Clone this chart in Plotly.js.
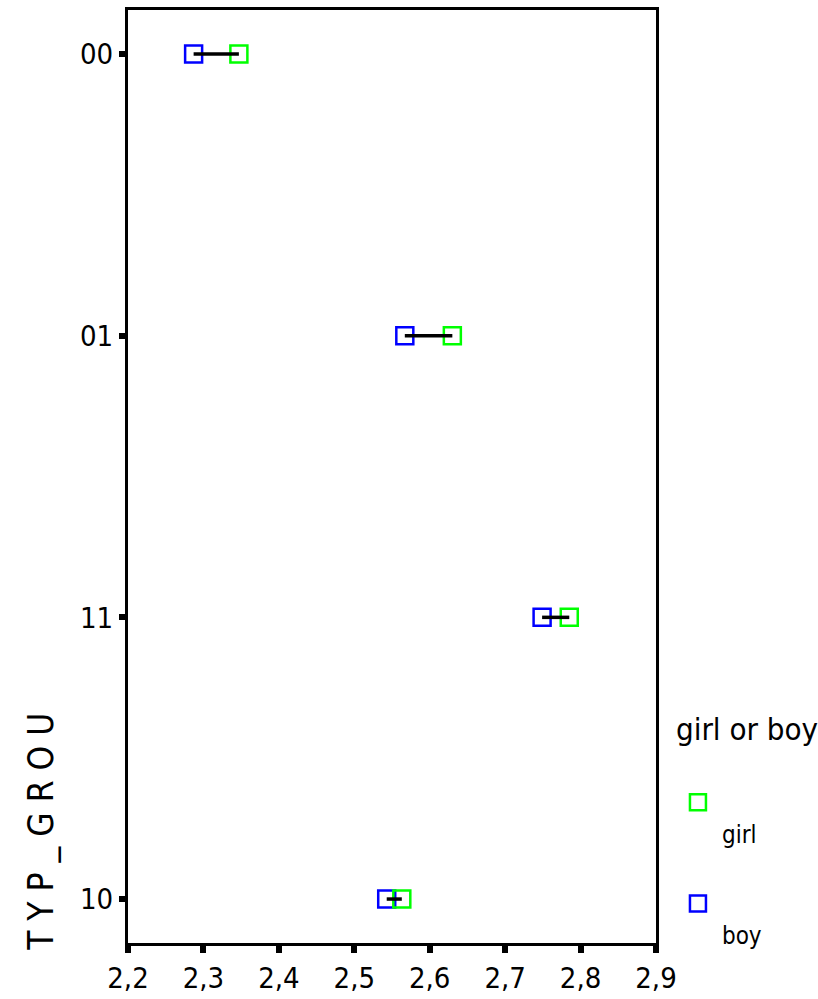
<!DOCTYPE html>
<html>
<head>
<meta charset="utf-8">
<script src="https://cdn.plot.ly/plotly-3.0.1.min.js"></script>
<style>html,body{margin:0;padding:0;background:#fff;}#chart{width:818px;height:999px;}</style>
</head>
<body>
<div id="chart"></div>
<script>
// Data
const categories = ['00', '01', '11', '10'];
const boyValues  = [2.287, 2.567, 2.749, 2.543];
const girlValues = [2.347, 2.630, 2.785, 2.563];
const xTickValues = [2.2, 2.3, 2.4, 2.5, 2.6, 2.7, 2.8, 2.9];
const seriesNames = ['girl', 'boy'];
const legendTitle = 'girl or boy';
const yAxisTitle = 'T Y P _ G R O U';

const FONT = '"Liberation Sans Narrow", "Arial Narrow", "DejaVu Sans Condensed", "Roboto Condensed", "Liberation Sans", Arial, sans-serif';

// connecting line segments built from the data
const lineX = [], lineY = [];
categories.forEach((c, i) => {
  lineX.push(boyValues[i], girlValues[i], null);
  lineY.push(c, c, null);
});

const traces = [
  {
    type: 'scatter', mode: 'markers', name: '<br>' + seriesNames[1],
    x: boyValues, y: categories,
    marker: {symbol: 'square-open', size: 17, color: '#0000ff', line: {width: 2.5, color: '#0000ff'}},
    legendgroup: 'b', legendrank: 2, hoverinfo: 'x+y'
  },
  {
    type: 'scatter', mode: 'markers', name: '<br>' + seriesNames[0],
    x: girlValues, y: categories,
    marker: {symbol: 'square-open', size: 17, color: '#00ff00', line: {width: 2.5, color: '#00ff00'}},
    legendgroup: 'g', legendrank: 1, hoverinfo: 'x+y'
  },
  {
    type: 'scatter', mode: 'lines', x: lineX, y: lineY,
    line: {color: '#000000', width: 3.5}, showlegend: false, hoverinfo: 'skip'
  }
];

const layout = {
  width: 818, height: 999,
  margin: {l: 128, r: 162, t: 10, b: 56, autoexpand: false},
  paper_bgcolor: '#ffffff', plot_bgcolor: '#ffffff',
  separators: ', ',
  font: {family: FONT, color: '#000000'},
  xaxis: {
    range: [2.2, 2.9], tickvals: xTickValues, tickformat: '.1f',
    showline: true, linewidth: 3, linecolor: '#000', mirror: true,
    ticks: 'outside', ticklen: 7, tickwidth: 6, tickcolor: '#000',
    showgrid: false, zeroline: false, automargin: false,
    tickfont: {family: FONT, size: 29, color: '#000'}
  },
  yaxis: {
    type: 'category', categoryorder: 'array',
    categoryarray: categories.slice().reverse(),
    range: [-0.156, 3.156],
    showline: true, linewidth: 3, linecolor: '#000', mirror: true,
    ticks: 'outside', ticklen: 6, tickwidth: 6, tickcolor: '#000',
    showgrid: false, zeroline: false, automargin: false,
    tickfont: {family: FONT, size: 29, color: '#000'}
  },
  showlegend: true,
  legend: {
    x: 1.034, xanchor: 'left', y: 0.261, yanchor: 'top',
    traceorder: 'grouped', tracegroupgap: 36, valign: 'top', itemwidth: 38,
    font: {family: FONT, size: 24, color: '#000'},
    title: {text: legendTitle + '<br>', font: {family: FONT, size: 31, color: '#000'}},
    bgcolor: 'rgba(0,0,0,0)', borderwidth: 0
  },
  annotations: [{
    text: yAxisTitle, textangle: -90,
    xref: 'paper', yref: 'paper', x: -0.165, y: 0.119,
    xanchor: 'center', yanchor: 'middle', showarrow: false,
    font: {family: FONT, size: 35, color: '#000'}
  }]
};

Plotly.newPlot('chart', traces, layout, {displayModeBar: false, responsive: false});
</script>
</body>
</html>
